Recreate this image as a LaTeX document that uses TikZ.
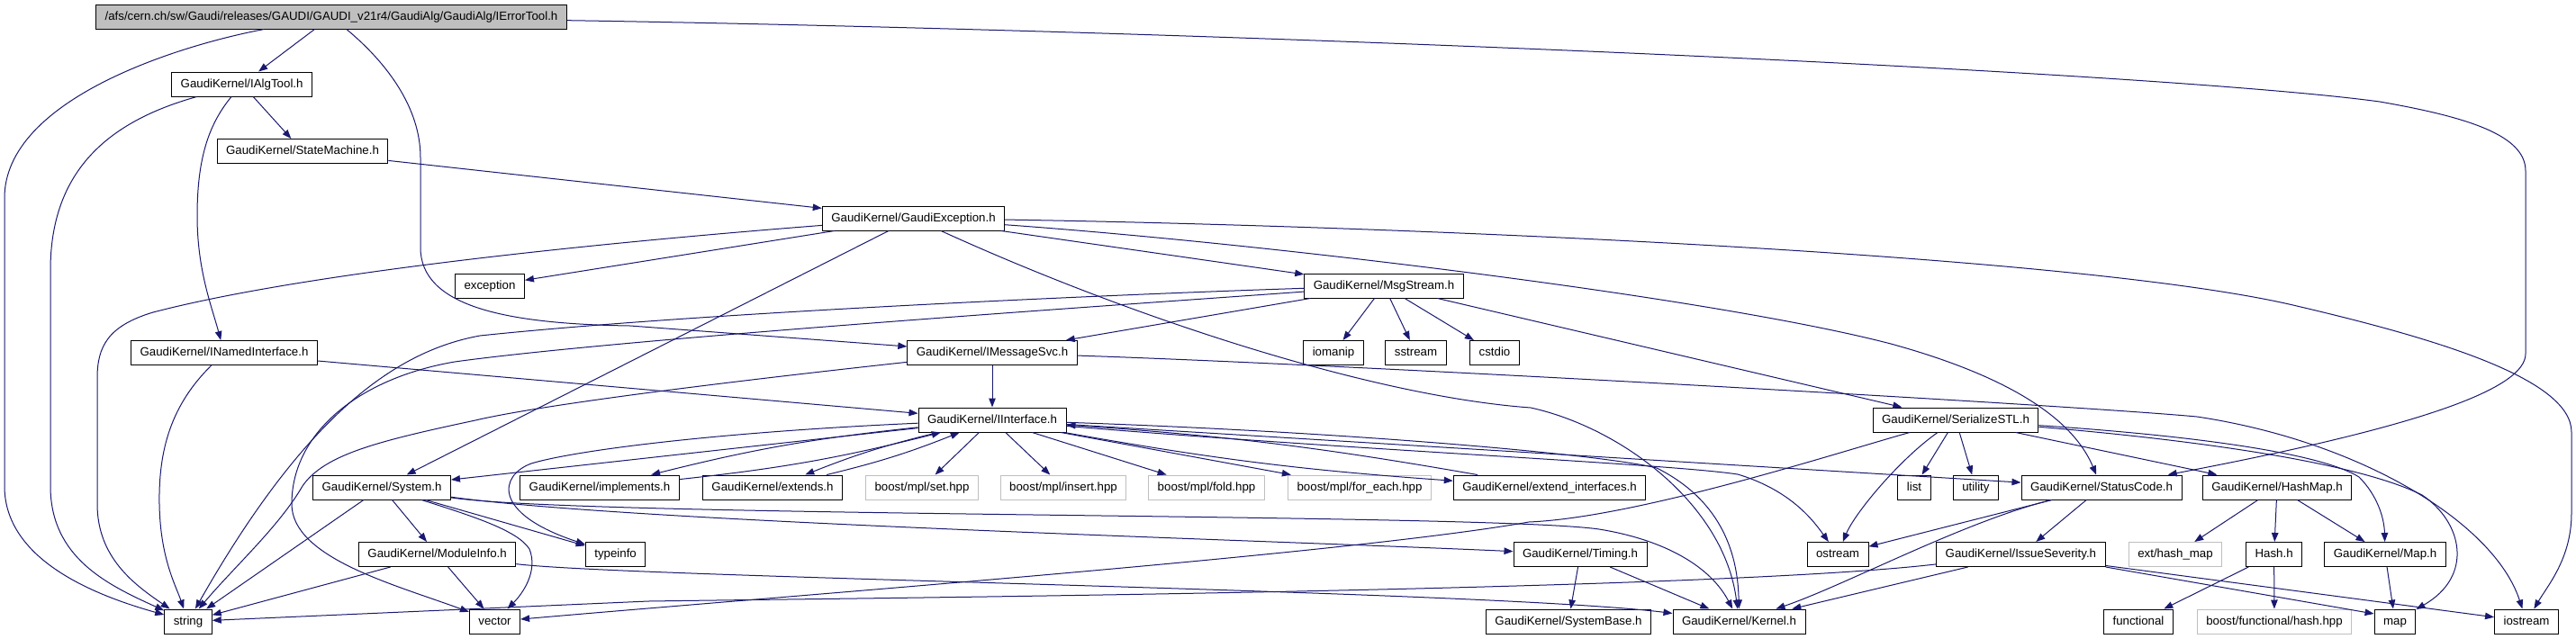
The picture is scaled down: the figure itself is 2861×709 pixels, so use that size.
\documentclass[tikz,border=0pt]{standalone}
\usepackage{fontspec}
\setmainfont{Liberation Sans}
\usepackage{tikz}
\definecolor{edgeblue}{RGB}{25,25,112}
\definecolor{boxgrey}{RGB}{191,191,191}
\usetikzlibrary{arrows.meta}

\begin{document}
\begin{tikzpicture}[x=0.75bp, y=-0.75bp,
				>={Triangle[length=7.5bp,width=5.6bp]},   %Pfeilspitzen
				hfile/.style={draw=black, line width=0.75bp, inner xsep=7.5bp, inner ysep=0pt,
					minimum height=20.25bp, text height=7.4bp, text depth=2.1bp,
					font=\fontsize{10}{12}\selectfont},
				extfile/.style={hfile, draw=boxgrey},
				rootfile/.style={hfile, fill=boxgrey},
				dep/.style={->, draw=edgeblue, line width=0.75bp}]
				\fill[white] (0,0) rectangle (2861,709);
				%Dateien
				\node[rootfile] (errtool) at (368,18.5) {/afs/cern.ch/sw/Gaudi/releases/GAUDI/GAUDI\_v21r4/GaudiAlg/GaudiAlg/IErrorTool.h};
				\node[hfile] (ialgtool) at (268.6,93.5) {GaudiKernel/IAlgTool.h};
				\node[hfile] (statemach) at (336,168) {GaudiKernel/StateMachine.h};
				\node[hfile] (gexcept) at (1014.5,242.5) {GaudiKernel/GaudiException.h};
				\node[hfile] (exception) at (544,317.5) {exception};
				\node[hfile] (msgstream) at (1537,317.5) {GaudiKernel/MsgStream.h};
				\node[hfile] (inamed) at (249,392) {GaudiKernel/INamedInterface.h};
				\node[hfile] (imsgsvc) at (1102,392) {GaudiKernel/IMessageSvc.h};
				\node[hfile] (iomanip) at (1481,392) {iomanip};
				\node[hfile] (sstream) at (1572.5,392) {sstream};
				\node[hfile] (cstdio) at (1660,392) {cstdio};
				\node[hfile] (iiface) at (1102,466.5) {GaudiKernel/IInterface.h};
				\node[hfile] (serstl) at (2172,466.5) {GaudiKernel/SerializeSTL.h};
				\node[hfile] (system) at (424,541.5) {GaudiKernel/System.h};
				\node[hfile] (implements) at (666,541.5) {GaudiKernel/implements.h};
				\node[hfile] (extends) at (858,541.5) {GaudiKernel/extends.h};
				\node[extfile] (mplset) at (1024,541.5) {boost/mpl/set.hpp};
				\node[extfile] (mplinsert) at (1181,541.5) {boost/mpl/insert.hpp};
				\node[extfile] (mplfold) at (1340,541.5) {boost/mpl/fold.hpp};
				\node[extfile] (mplforeach) at (1510,541.5) {boost/mpl/for\_each.hpp};
				\node[hfile] (extiface) at (1721,541.5) {GaudiKernel/extend\_interfaces.h};
				\node[hfile] (list) at (2126,541.5) {list};
				\node[hfile] (utility) at (2194.4,541.5) {utility};
				\node[hfile] (statuscode) at (2334,541.5) {GaudiKernel/StatusCode.h};
				\node[hfile] (hashmap) at (2529,541.5) {GaudiKernel/HashMap.h};
				\node[hfile] (moduleinfo) at (485.6,616) {GaudiKernel/ModuleInfo.h};
				\node[hfile] (typeinfo) at (683.6,616) {typeinfo};
				\node[hfile] (timing) at (1755,616) {GaudiKernel/Timing.h};
				\node[hfile] (ostream) at (2041,616) {ostream};
				\node[hfile] (severity) at (2244.4,616) {GaudiKernel/IssueSeverity.h};
				\node[extfile] (exthashmap) at (2416,616) {ext/hash\_map};
				\node[hfile] (hash) at (2525.6,616) {Hash.h};
				\node[hfile] (mapk) at (2649,616) {GaudiKernel/Map.h};
				\node[hfile] (string) at (209,690.5) {string};
				\node[hfile] (vector) at (549.5,690.5) {vector};
				\node[hfile] (systembase) at (1742,690.5) {GaudiKernel/SystemBase.h};
				\node[hfile] (kernel) at (1931.5,690.5) {GaudiKernel/Kernel.h};
				\node[hfile] (functional) at (2375,690.5) {functional};
				\node[extfile] (boosthash) at (2526,690.5) {boost/functional/hash.hpp};
				\node[hfile] (map) at (2660,690.5) {map};
				\node[hfile] (iostream) at (2806,690.5) {iostream};
				%Abhaengigkeiten: IErrorTool.h
				\draw[dep] (errtool) .. controls (200,50) and (5,110) .. (5,220) -- (5,540) .. controls (5,620) and (100,660) .. (string);
				\draw[dep] (errtool) -- (ialgtool);
				\draw[dep] (errtool) .. controls (430,70) and (467,120) .. (467,175) -- (467,275) .. controls (467,340) and (560,360) .. (700,362) -- (imsgsvc);
				\draw[dep] (errtool) .. controls (1400,35) and (2400,80) .. (2643,113) .. controls (2740,130) and (2805,150) .. (2805,190) -- (2805,393) .. controls (2805,430) and (2700,472) .. (statuscode);
				%IAlgTool.h, StateMachine.h
				\draw[dep] (ialgtool) -- (statemach);
				\draw[dep] (ialgtool) .. controls (120,135) and (56,190) .. (56,300) -- (56,540) .. controls (56,620) and (120,650) .. (string);
				\draw[dep] (ialgtool) .. controls (230,140) and (219,180) .. (219,240) .. controls (219,300) and (235,340) .. (inamed);
				\draw[dep] (statemach) -- (gexcept);
				%GaudiException.h
				\draw[dep] (gexcept) -- (exception);
				\draw[dep] (gexcept) .. controls (700,267) and (350,300) .. (170,347) .. controls (120,362) and (108,385) .. (108,420) -- (108,560) .. controls (108,620) and (150,650) .. (string);
				\draw[dep] (gexcept) -- (system);
				\draw[dep] (gexcept) .. controls (1250,350) and (1520,440) .. (1700,453) .. controls (1800,475) and (1915,560) .. (kernel);
				\draw[dep] (gexcept) -- (msgstream);
				\draw[dep] (gexcept) .. controls (1400,270) and (1900,330) .. (2100,382) .. controls (2220,415) and (2300,460) .. (statuscode);
				\draw[dep] (gexcept) .. controls (1500,250) and (2300,280) .. (2551,340) .. controls (2700,375) and (2856,420) .. (2856,480) -- (2856,570) .. controls (2856,620) and (2830,650) .. (iostream);
				%MsgStream.h
				\draw[dep] (msgstream) -- (imsgsvc);
				\draw[dep] (msgstream) .. controls (1300,325) and (800,345) .. (533,373) .. controls (440,390) and (340,460) .. (string);
				\draw[dep] (msgstream) .. controls (1300,335) and (700,375) .. (505,402) .. controls (400,420) and (324,480) .. (324,560) .. controls (324,620) and (440,650) .. (vector);
				\draw[dep] (msgstream) -- (iomanip);
				\draw[dep] (msgstream) -- (sstream);
				\draw[dep] (msgstream) -- (cstdio);
				\draw[dep] (msgstream) -- (serstl);
				%INamedInterface.h, IMessageSvc.h
				\draw[dep] (inamed) -- (iiface);
				\draw[dep] (inamed) .. controls (190,450) and (176,500) .. (177,560) .. controls (178,620) and (195,650) .. (string);
				\draw[dep] (imsgsvc) -- (iiface);
				\draw[dep] (imsgsvc) .. controls (800,425) and (600,450) .. (528,467) .. controls (420,490) and (360,505) .. (336,540) .. controls (310,585) and (260,630) .. (string);
				\draw[dep] (imsgsvc) .. controls (1500,405) and (2300,450) .. (2440,463) .. controls (2620,490) and (2770,580) .. (iostream);
				%IInterface.h
				\draw[dep] (iiface) -- (system);
				\draw[dep] (iiface) .. controls (800,480) and (640,500) .. (590,515) .. controls (555,528) and (545,570) .. (typeinfo);
				\draw[dep] (iiface) to[bend right=4] (implements);
				\draw[dep] (implements) to[bend right=4] (iiface);
				\draw[dep] (iiface) to[bend right=4] (extends);
				\draw[dep] (extends) to[bend right=4] (iiface);
				\draw[dep] (iiface) -- (mplset);
				\draw[dep] (iiface) -- (mplinsert);
				\draw[dep] (iiface) -- (mplfold);
				\draw[dep] (iiface) -- (mplforeach);
				\draw[dep] (iiface) to[bend right=3] (extiface);
				\draw[dep] (extiface) to[bend right=3] (iiface);
				\draw[dep] (iiface) .. controls (1500,480) and (1780,505) .. (1840,520) .. controls (1900,550) and (1930,600) .. (kernel);
				\draw[dep] (iiface) .. controls (1500,500) and (1850,515) .. (1930,527) .. controls (1990,545) and (2015,580) .. (ostream);
				\draw[dep] (iiface) -- (statuscode);
				%SerializeSTL.h
				\draw[dep] (serstl) .. controls (2050,500) and (1820,575) .. (1698,580) .. controls (1500,615) and (900,660) .. (vector);
				\draw[dep] (serstl) .. controls (2110,510) and (2060,570) .. (ostream);
				\draw[dep] (serstl) -- (list);
				\draw[dep] (serstl) -- (utility);
				\draw[dep] (serstl) -- (hashmap);
				\draw[dep] (serstl) .. controls (2450,485) and (2580,505) .. (2620,530) .. controls (2640,550) and (2648,575) .. (mapk);
				\draw[dep] (serstl) .. controls (2450,490) and (2620,515) .. (2690,550) .. controls (2735,580) and (2748,640) .. (map);
				%StatusCode.h, IssueSeverity.h
				\draw[dep] (statuscode) -- (severity);
				\draw[dep] (statuscode) -- (ostream);
				\draw[dep] (statuscode) .. controls (2180,580) and (2050,650) .. (kernel);
				\draw[dep] (severity) .. controls (1900,656) and (1000,664) .. (720,668) -- (string);
				\draw[dep] (severity) -- (kernel);
				\draw[dep] (severity.south east) -- (map.160);
				\draw[dep] (severity) -- (iostream);
				%HashMap.h, Hash.h, Map.h
				\draw[dep] (hashmap) -- (exthashmap);
				\draw[dep] (hashmap) -- (hash);
				\draw[dep] (hashmap) -- (mapk);
				\draw[dep] (hash) -- (functional);
				\draw[dep] (hash) -- (boosthash);
				\draw[dep] (mapk) -- (map);
				%System.h, Timing.h, ModuleInfo.h
				\draw[dep] (system) -- (string);
				\draw[dep] (system) -- (moduleinfo);
				\draw[dep] (system) .. controls (530,575) and (575,590) .. (588,610) .. controls (598,635) and (580,660) .. (vector);
				\draw[dep] (system) -- (typeinfo);
				\draw[dep] (system) .. controls (700,580) and (1400,600) .. (timing);
				\draw[dep] (system) .. controls (650,575) and (1650,570) .. (1776,588) .. controls (1850,600) and (1900,630) .. (kernel);
				\draw[dep] (timing) -- (systembase);
				\draw[dep] (timing) -- (kernel);
				\draw[dep] (moduleinfo) -- (string);
				\draw[dep] (moduleinfo) -- (vector);
				\draw[dep] (moduleinfo) .. controls (700,642) and (1650,656) .. (kernel);
			\end{tikzpicture}
\end{document}
